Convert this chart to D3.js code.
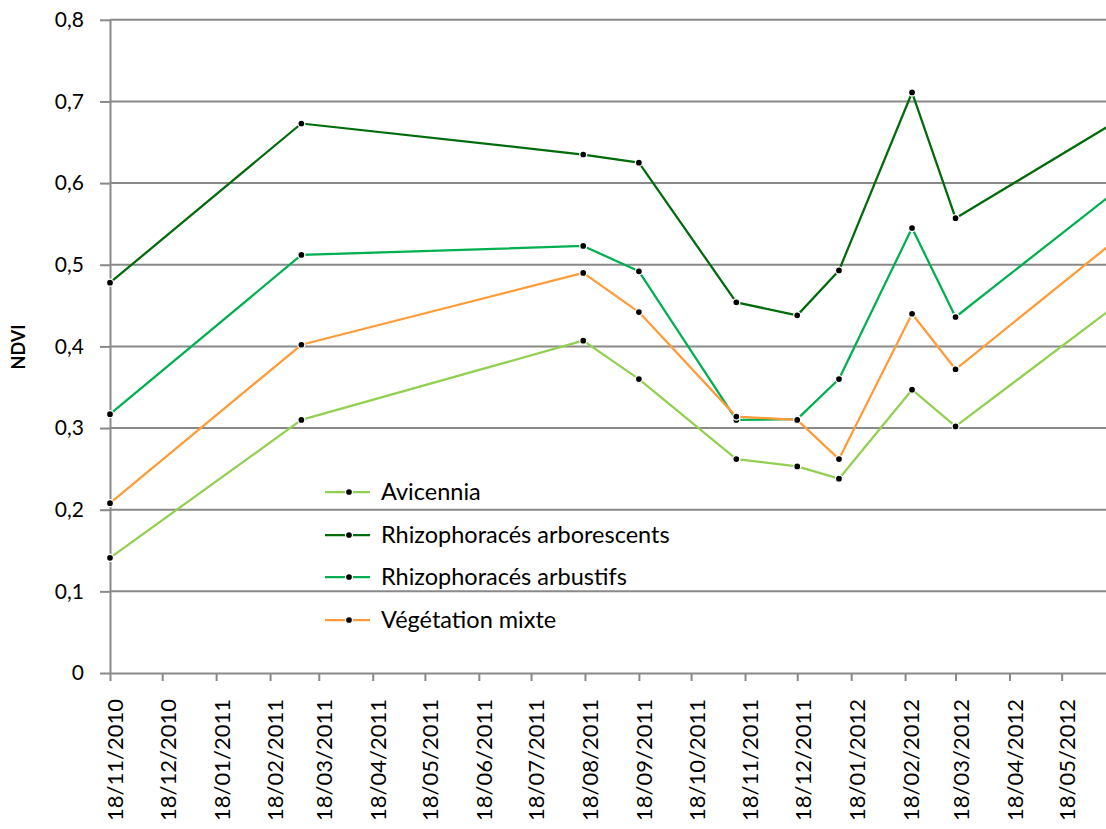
<!DOCTYPE html>
<html>
<head>
<meta charset="utf-8">
<script src="https://cdn.jsdelivr.net/npm/d3@7"></script>
<style>
  html, body { margin: 0; padding: 0; background: #fff; }
  svg { display: block; font-family: Lato, "Open Sans", sans-serif; }
</style>
</head>
<body>
<script>
// Acquisition dates (the last one lies just past the right edge of the frame)
const dates = ["2010-11-18", "2011-03-08", "2011-08-17", "2011-09-18", "2011-11-13",
               "2011-12-18", "2012-01-11", "2012-02-22", "2012-03-18", "2012-06-18"];

// Mean NDVI per vegetation class
const avicennia      = [0.141, 0.310, 0.407, 0.360, 0.262, 0.253, 0.238, 0.347, 0.302, 0.450];
const rhizoArbores   = [0.478, 0.673, 0.635, 0.625, 0.454, 0.438, 0.493, 0.711, 0.557, 0.675];
const rhizoArbustifs = [0.317, 0.512, 0.523, 0.492, 0.310, 0.311, 0.360, 0.545, 0.436, 0.590];
const vegMixte       = [0.208, 0.402, 0.490, 0.442, 0.314, 0.310, 0.262, 0.440, 0.372, 0.530];

const seriesNames  = ["Avicennia", "Rhizophoracés arborescents", "Rhizophoracés arbustifs", "Végétation mixte"];
const seriesColors = ["#92D050", "#006B0A", "#00B050", "#FF9B38"];

// Axis ticks
const yTicks      = [0, 0.1, 0.2, 0.3, 0.4, 0.5, 0.6, 0.7, 0.8];
const yTickLabels = ["0", "0,1", "0,2", "0,3", "0,4", "0,5", "0,6", "0,7", "0,8"];
const xTickDates  = ["2010-11-18", "2010-12-18", "2011-01-18", "2011-02-18", "2011-03-18",
                     "2011-04-18", "2011-05-18", "2011-06-18", "2011-07-18", "2011-08-18",
                     "2011-09-18", "2011-10-18", "2011-11-18", "2011-12-18", "2012-01-18",
                     "2012-02-18", "2012-03-18", "2012-04-18", "2012-05-18"];

const W = 1106, H = 829;
const parse = d3.utcParse("%Y-%m-%d");
const fmt = d3.utcFormat("%d/%m/%Y");
const gridColor = "#898989";

const svg = d3.select("body").append("svg")
  .attr("width", W).attr("height", H)
  .attr("viewBox", `0 0 ${W} ${H}`);

const x = d3.scaleUtc()
  .domain([parse("2010-11-18"), parse("2012-06-18")])
  .range([110, 1115.6]);
const y = d3.scaleLinear().domain([0, 0.8]).range([673, 19.8]);

// Horizontal gridlines
svg.append("g")
  .selectAll("line")
  .data(yTicks.filter(v => v > 0))
  .join("line")
  .attr("x1", x.range()[0]).attr("x2", x.range()[1])
  .attr("y1", d => y(d)).attr("y2", d => y(d))
  .attr("stroke", gridColor).attr("stroke-width", 2);

// Y axis
const yAxis = svg.append("g")
  .attr("transform", `translate(${x.range()[0]},0)`)
  .call(d3.axisLeft(y)
    .tickValues(yTicks)
    .tickFormat((d, i) => yTickLabels[i])
    .tickSize(10).tickSizeOuter(0).tickPadding(16));
yAxis.select(".domain").attr("stroke", gridColor).attr("stroke-width", 2);
yAxis.selectAll(".tick line").attr("stroke", gridColor).attr("stroke-width", 2);
yAxis.selectAll(".tick text")
  .attr("font-size", 21).attr("fill", "#000")
  .attr("font-family", "Lato, sans-serif");

// X axis
const xAxis = svg.append("g")
  .attr("transform", `translate(0,${y(0)})`)
  .call(d3.axisBottom(x)
    .tickValues(xTickDates.map(parse))
    .tickFormat(fmt)
    .tickSize(8).tickSizeOuter(0));
xAxis.select(".domain").attr("stroke", gridColor).attr("stroke-width", 2);
xAxis.selectAll(".tick line").attr("stroke", gridColor).attr("stroke-width", 2);
xAxis.selectAll(".tick text")
  .attr("font-size", 22).attr("fill", "#000")
  .attr("font-family", "Lato, sans-serif")
  .attr("text-anchor", "end")
  .attr("transform", "rotate(-90)")
  .attr("x", -26).attr("y", 5).attr("dy", "0.36em");

// Y axis title
svg.append("text")
  .attr("transform", `translate(25,347) rotate(-90)`)
  .attr("text-anchor", "middle")
  .attr("font-size", 18).attr("font-weight", "bold")
  .text("NDVI");

// Series
const allSeries = [avicennia, rhizoArbores, rhizoArbustifs, vegMixte];
const dateObjs = dates.map(parse);
const line = d3.line().x(d => x(d.date)).y(d => y(d.value));

allSeries.forEach((vals, si) => {
  const pts = vals.map((v, i) => ({ date: dateObjs[i], value: v }));
  const g = svg.append("g");
  g.append("path")
    .datum(pts)
    .attr("fill", "none")
    .attr("stroke", seriesColors[si])
    .attr("stroke-width", 2.25)
    .attr("stroke-linejoin", "round")
    .attr("d", line);
  g.selectAll("circle")
    .data(pts)
    .join("circle")
    .attr("cx", d => x(d.date)).attr("cy", d => y(d.value))
    .attr("r", 3.5)
    .attr("fill", "#000")
    .attr("stroke", "#fff").attr("stroke-width", 1.3);
});

// Legend
const legendRows = [492, 535, 577, 620];
const legend = svg.append("g");
seriesNames.forEach((name, i) => {
  const ly = legendRows[i];
  legend.append("line")
    .attr("x1", 325).attr("x2", 370).attr("y1", ly).attr("y2", ly)
    .attr("stroke", seriesColors[i]).attr("stroke-width", 2.25);
  legend.append("circle")
    .attr("cx", 349).attr("cy", ly).attr("r", 3.5)
    .attr("fill", "#000").attr("stroke", "#fff").attr("stroke-width", 1.3);
  legend.append("text")
    .attr("x", 381).attr("y", ly).attr("dy", "0.36em")
    .attr("font-size", 23.5).attr("fill", "#000")
    .text(name);
});
</script>
</body>
</html>
